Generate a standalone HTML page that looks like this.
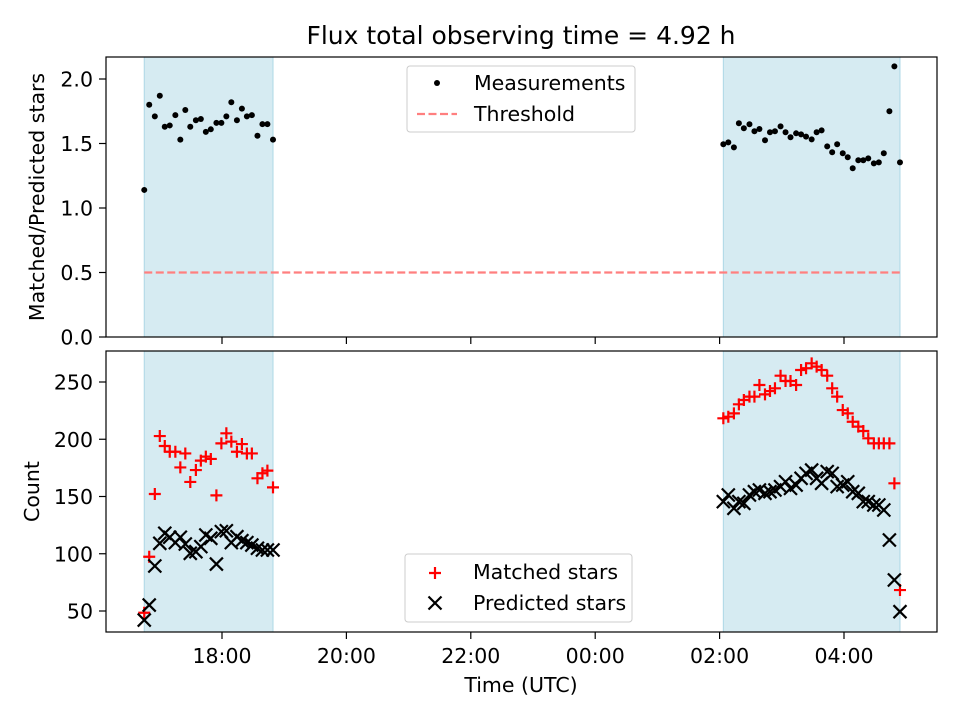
<!DOCTYPE html>
<html><head><meta charset="utf-8"><style>
body{margin:0;background:#fff;}
svg{font-family:"DejaVu Sans","Liberation Sans",sans-serif;}
</style></head><body>
<svg id="chart" width="960" height="720" viewBox="0 0 960 720"></svg>
<script>
const xTickValues=[18,20,22,24,26,28];
const xTickLabels=["18:00","20:00","22:00","00:00","02:00","04:00"];
const topYTicks=[0,0.5,1.0,1.5,2.0];
const botYTicks=[50,100,150,200,250];
const spans=[[16.75,18.82],[26.06,28.90]];
const threshold=0.5;
const t1=[16.75,16.83,16.92,17.00,17.08,17.16,17.25,17.33,17.41,17.49,17.58,17.66,17.74,17.82,17.91,17.99,18.07,18.15,18.24,18.32,18.40,18.48,18.57,18.65,18.73,18.82];
const t2=[26.06,26.14,26.23,26.31,26.39,26.48,26.56,26.64,26.73,26.81,26.89,26.98,27.06,27.14,27.23,27.31,27.39,27.48,27.56,27.64,27.73,27.81,27.89,27.98,28.06,28.14,28.23,28.31,28.39,28.48,28.56,28.64,28.73,28.81,28.90];
const ratio1=[1.14,1.80,1.71,1.87,1.63,1.64,1.72,1.53,1.76,1.63,1.68,1.69,1.59,1.61,1.66,1.66,1.71,1.82,1.68,1.77,1.71,1.72,1.56,1.65,1.65,1.53];
const ratio2=[1.494,1.509,1.47,1.657,1.618,1.649,1.595,1.612,1.525,1.587,1.595,1.633,1.587,1.548,1.579,1.571,1.553,1.532,1.587,1.602,1.478,1.432,1.494,1.424,1.393,1.308,1.370,1.370,1.385,1.346,1.354,1.424,1.750,2.098,1.354];
const matched1=[48.5,97.4,152.2,202.8,194.1,189.1,189.1,175.4,187.6,162.7,173.1,181.3,184.8,182.8,151.0,196.4,205.2,197.9,189.1,195.8,187.6,187.6,165.9,170.3,172.6,158.0];
const predicted1=[42.1,55.2,89.3,109.1,117.9,114.4,109.7,114.4,108.5,100.4,101.8,106.2,116.4,113.5,91.0,119.3,120.1,109.7,114.9,111.4,109.7,107.6,104.8,103.3,103.3,103.3];
const matched2=[218.3,219.7,222.6,230.5,234.3,237.2,237.2,247.4,239.2,242.1,244.5,255.5,250.9,250.9,247.4,260.5,262,266.3,263.4,260.5,255.5,244.5,237.2,225.5,222.6,215.3,211,207.2,200.8,196.4,196.4,196.4,196.4,161.5,68.3];
const predicted2=[145.5,151.3,139.7,145.5,144.0,151.3,154.2,155.7,152.8,154.2,155.7,158.6,162.9,157.1,160,165.9,170.2,173.1,165.9,161.5,171.7,170.2,158.6,160,162.9,154.2,152.8,145.5,145.5,142.6,142.6,138.2,112,77.1,49.4];

const NS="http://www.w3.org/2000/svg";
const svg=document.getElementById('chart');
function mk(tag,attrs,parent){const e=document.createElementNS(NS,tag);for(const k in attrs)e.setAttribute(k,attrs[k]);(parent||svg).appendChild(e);return e;}
const L=106,R=937;
const xs=h=>222+(h-18)*62.2;
const yTop=v=>337-v*129;
const yBot=v=>611-(v-50)*1.145;
const T1=57,B1=337,T2=351,B2=632;
const FS=20.5;

let e=mk('text',{x:521,y:44,'text-anchor':'middle','font-size':'25'});e.textContent='Flux total observing time = 4.92 h';



function panel(top,bot,name){
  const g=mk('g',{});
  
  
  spans.forEach(s=>{const r=mk('rect',{x:xs(s[0]),y:top,width:xs(s[1])-xs(s[0]),height:bot-top,fill:'#add8e6','fill-opacity':0.5,stroke:'#add8e6'},g);
    
    });
  return g;
}
const gTop=panel(T1,B1,'ratio-panel');
const gBot=panel(T2,B2,'count-panel');

e=mk('line',{x1:xs(spans[0][0]),x2:xs(spans[1][1]),y1:yTop(threshold),y2:yTop(threshold),stroke:'#ff7f7f','stroke-width':2.2,'stroke-dasharray':'8,3.5'},gTop);



[[t1,ratio1],[t2,ratio2]].forEach(([t,v])=>t.forEach((h,i)=>{const c=mk('circle',{cx:xs(h),cy:yTop(v[i]),r:3,fill:'#000'},gTop);
  
  }));

function plus(x,y){const p=mk('path',{d:`M${x-6},${y}h12M${x},${y-6}v12`,stroke:'red','stroke-width':2.2,fill:'none'},gBot);
  
  }
function cross(x,y){const p=mk('path',{d:`M${x-6.5},${y-6.5}l13,13M${x-6.5},${y+6.5}l13,-13`,stroke:'#000','stroke-width':2.2,fill:'none'},gBot);
  
  }
[[t1,matched1],[t2,matched2]].forEach(([t,v])=>t.forEach((h,i)=>plus(xs(h),yBot(v[i]))));
[[t1,predicted1],[t2,predicted2]].forEach(([t,v])=>t.forEach((h,i)=>cross(xs(h),yBot(v[i]))));

[[T1,B1,'top'],[T2,B2,'bottom']].forEach(([t,b,n])=>{
  e=mk('rect',{x:L,y:t,width:R-L,height:b-t,fill:'none',stroke:'#000','stroke-width':1.2});
  
  
  xTickValues.forEach((h,i)=>{mk('line',{x1:xs(h),x2:xs(h),y1:b,y2:b+7,stroke:'#000','stroke-width':1.2});
    if(n==='bottom'){const tx=mk('text',{x:xs(h),y:b+31,'text-anchor':'middle','font-size':FS});tx.textContent=xTickLabels[i];
      
      }});
});
topYTicks.forEach(v=>{mk('line',{x1:L-7,x2:L,y1:yTop(v),y2:yTop(v),stroke:'#000','stroke-width':1.2});
  const tx=mk('text',{x:L-13,y:yTop(v)+7.5,'text-anchor':'end','font-size':FS});tx.textContent=v.toFixed(1);
  
  });
botYTicks.forEach(v=>{mk('line',{x1:L-7,x2:L,y1:yBot(v),y2:yBot(v),stroke:'#000','stroke-width':1.2});
  const tx=mk('text',{x:L-13,y:yBot(v)+7.5,'text-anchor':'end','font-size':FS});tx.textContent=v;
  
  });

e=mk('text',{x:0,y:0,'text-anchor':'middle','font-size':FS,transform:`translate(44,${(T1+B1)/2}) rotate(-90)`});e.textContent='Matched/Predicted stars';


e=mk('text',{x:0,y:0,'text-anchor':'middle','font-size':FS,transform:`translate(39,${(T2+B2)/2}) rotate(-90)`});e.textContent='Count';


e=mk('text',{x:521,y:692,'text-anchor':'middle','font-size':FS});e.textContent='Time (UTC)';



function legendBox(x,y,w,h,name){const r=mk('rect',{x,y,width:w,height:h,rx:3,fill:'#fff','fill-opacity':0.8,stroke:'#ccc'});
  
  }
legendBox(407,66,228,66,'top-legend');
e=mk('circle',{cx:437,cy:83,r:3,fill:'#000'});


e=mk('text',{x:474,y:90,'font-size':FS});e.textContent='Measurements';


e=mk('line',{x1:417,x2:457,y1:114,y2:114,stroke:'#ff7f7f','stroke-width':2.2,'stroke-dasharray':'8,3.5'});


e=mk('text',{x:474,y:121,'font-size':FS});e.textContent='Threshold';



legendBox(405,554,227,68,'bottom-legend');
e=mk('path',{d:'M429,573h12M435,567v12',stroke:'red','stroke-width':2.2});


e=mk('text',{x:473,y:579,'font-size':FS});e.textContent='Matched stars';


e=mk('path',{d:'M428.5,596.5l13,13M428.5,609.5l13,-13',stroke:'#000','stroke-width':2.2});


e=mk('text',{x:473,y:610,'font-size':FS});e.textContent='Predicted stars';


</script>
</body></html>
